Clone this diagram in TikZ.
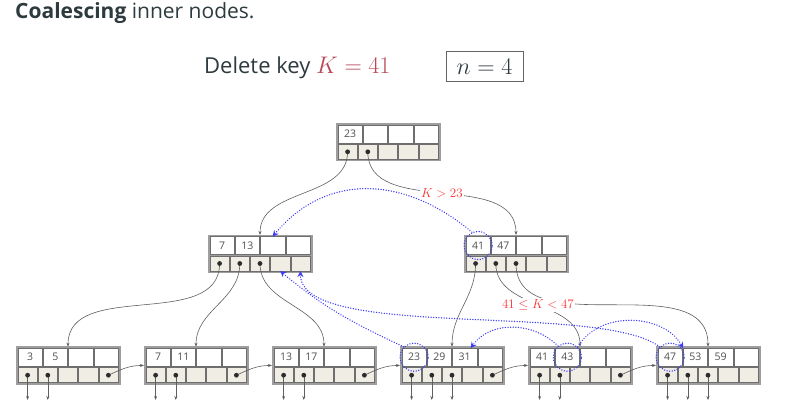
\RequirePackage{fix-cm}
\documentclass[tikz,border=0pt]{standalone}
\usepackage{fontspec}
\setmainfont{Open Sans}
\usetikzlibrary{arrows.meta,calc}
\definecolor{titlecol}{RGB}{45,58,62}
\definecolor{keyred}{RGB}{185,72,88}
\definecolor{lblred}{RGB}{250,50,50}
\definecolor{framecol}{RGB}{158,158,158}
\definecolor{cellline}{RGB}{110,110,110}
\definecolor{ptrfill}{RGB}{239,237,228}
\definecolor{edgecol}{RGB}{95,95,95}
\definecolor{annblue}{RGB}{60,60,245}
\definecolor{celltext}{RGB}{80,80,80}
\definecolor{dotcol}{RGB}{45,45,45}
\definecolor{boxcol}{RGB}{100,100,100}
\tikzset{
  frame/.style={draw=framecol, fill=framecol, line width=0.8pt, minimum width=104pt, minimum height=37.5pt, inner sep=0pt, outer sep=0pt},
  keycell/.style={draw=cellline, fill=white, line width=0.5pt, minimum width=24.25pt, minimum height=18pt, inner sep=0pt, outer sep=0pt, font=\fontsize{10.5}{12}\selectfont, text=celltext},
  ptrcell/.style={draw=cellline, fill=ptrfill, line width=0.5pt, minimum width=19.2pt, minimum height=15pt, inner sep=0pt, outer sep=0pt},
  edge/.style={draw=edgecol, line width=0.6pt, -{Stealth[length=4pt,width=3pt]}},
  elabel/.style={fill=white, inner sep=1.5pt, text=lblred, font=\fontsize{13}{15}\selectfont},
  ann/.style={draw=annblue, line width=1.5pt, dash pattern=on 0.01pt off 2.6pt, line cap=round},
  annarrow/.style={ann, -{Stealth[length=6pt,width=6pt]}},
  anncircle/.style={ann, circle, minimum size=28pt, inner sep=0pt},
}
\newcommand{\btnode}[7]{%
  \node[frame] (#1) at ({#2+52},{#3+18.75}) {};
  \node[keycell] (#1-k1) at ({#2+14.125},{#3+10.5}) {#4};
  \node[keycell] (#1-k2) at ({#2+39.375},{#3+10.5}) {#5};
  \node[keycell] (#1-k3) at ({#2+64.625},{#3+10.5}) {#6};
  \node[keycell] (#1-k4) at ({#2+89.875},{#3+10.5}) {#7};
  \node[ptrcell] (#1-p1) at ({#2+11.6},{#3+28.5}) {};
  \node[ptrcell] (#1-p2) at ({#2+31.8},{#3+28.5}) {};
  \node[ptrcell] (#1-p3) at ({#2+52.0},{#3+28.5}) {};
  \node[ptrcell] (#1-p4) at ({#2+72.2},{#3+28.5}) {};
  \node[ptrcell] (#1-p5) at ({#2+92.4},{#3+28.5}) {};
}
\newcommand{\ptrdot}[1]{\fill[dotcol] (#1.center) circle[radius=2.4pt];}
\begin{document}
\begin{tikzpicture}[x=1pt, y=-1pt]
\useasboundingbox (0,0) rectangle (785,407);
% texts
\node[anchor=base west, inner sep=0pt, font=\fontsize{21}{25}\selectfont, text=titlecol] (title) at (15,18.3) {\textbf{Coalescing} inner nodes.};
\node[anchor=base west, inner sep=0pt, font=\fontsize{22}{26}\selectfont, text=titlecol] (del) at (204,73.3) {Delete key {\fontsize{24}{28}\selectfont\textcolor{keyred}{$K=41$}}};
\node[draw=boxcol, line width=0.8pt, minimum width=77pt, minimum height=30.7pt, inner sep=0pt, font=\fontsize{24}{28}\selectfont, text=titlecol] (nbox) at (484.5,66.4) {$n=4$};
% tree nodes
\btnode{r}{336}{123.3}{23}{}{}{}
\btnode{ml}{208}{235}{7}{13}{}{}
\btnode{mr}{464}{235}{41}{47}{}{}
\btnode{l1}{16}{346.7}{3}{5}{}{}
\btnode{l2}{144}{346.7}{7}{11}{}{}
\btnode{l3}{272}{346.7}{13}{17}{}{}
\btnode{l4}{400}{346.7}{23}{29}{31}{}
\btnode{l5}{528}{346.7}{41}{43}{}{}
\btnode{l6}{656}{346.7}{47}{53}{59}{}
\coordinate (bot) at (0,400);
% tree edges
\draw[edge] (r-p1.center) to[out=-90,in=90] (ml.north);
\draw[edge] (r-p2.center) to[out=-90,in=90] node[elabel, pos=0.5] (lblA) {$K>23$} (mr.north);
\draw[edge] (ml-p1.center) to[out=-90,in=90] (l1.north);
\draw[edge] (ml-p2.center) to[out=-90,in=90] (l2.north);
\draw[edge] (ml-p3.center) to[out=-90,in=90] (l3.north);
\draw[edge] (mr-p1.center) to[out=-90,in=90] (l4.north);
\draw[edge] (mr-p3.center) to[out=-90,in=90] (l6.north);
\draw[edge] (mr-p2.center) to[out=-90,in=90] node[elabel, pos=0.5] (lblB) {$41\le K<47$} (l5.north);
% leaf links
\draw[edge] (l1-p5.center) to[out=25,in=180] (l2.west);
\draw[edge] (l2-p5.center) to[out=25,in=180] (l3.west);
\draw[edge] (l3-p5.center) to[out=25,in=180] (l4.west);
\draw[edge] (l4-p5.center) to[out=25,in=180] (l5.west);
\draw[edge] (l5-p5.center) to[out=25,in=180] (l6.west);
% leaf record pointers
\foreach \p in {l1-p1,l1-p2,l2-p1,l2-p2,l3-p1,l3-p2,l4-p1,l4-p2,l4-p3,l5-p1,l5-p2,l6-p1,l6-p2,l6-p3}{
  \draw[edge] (\p.center) -- (\p.center |- bot);
}
% dots
\foreach \p in {r-p1,r-p2,ml-p1,ml-p2,ml-p3,mr-p1,mr-p2,mr-p3,
  l1-p1,l1-p2,l1-p5,l2-p1,l2-p2,l2-p5,l3-p1,l3-p2,l3-p5,
  l4-p1,l4-p2,l4-p3,l4-p5,l5-p1,l5-p2,l5-p5,l6-p1,l6-p2,l6-p3}{
  \ptrdot{\p}
}
% annotations
\node[anncircle] (c41) at (mr-k1) {};
\node[anncircle] (c23) at (l4-k1) {};
\node[anncircle] (c43) at (l5-k2) {};
\node[anncircle] (c47) at (l6-k1) {};
\draw[annarrow] (c41.115) to[out=140,in=50,looseness=1.1] (ml-k3.north);
\draw[annarrow] (c23.135) to[out=155,in=-40] (ml-p4.south);
\draw[annarrow] (c47.135) .. controls +(-60,-45) and +(0,70) .. (ml-p5.south);
\draw[annarrow] (c43.130) to[out=135,in=55] ($(l4-k3.north)!0.5!(l4-k3.north east)$);
\draw[annarrow] (c43.45) to[out=60,in=120] (l6-k2.north west);
\end{tikzpicture}
\end{document}
